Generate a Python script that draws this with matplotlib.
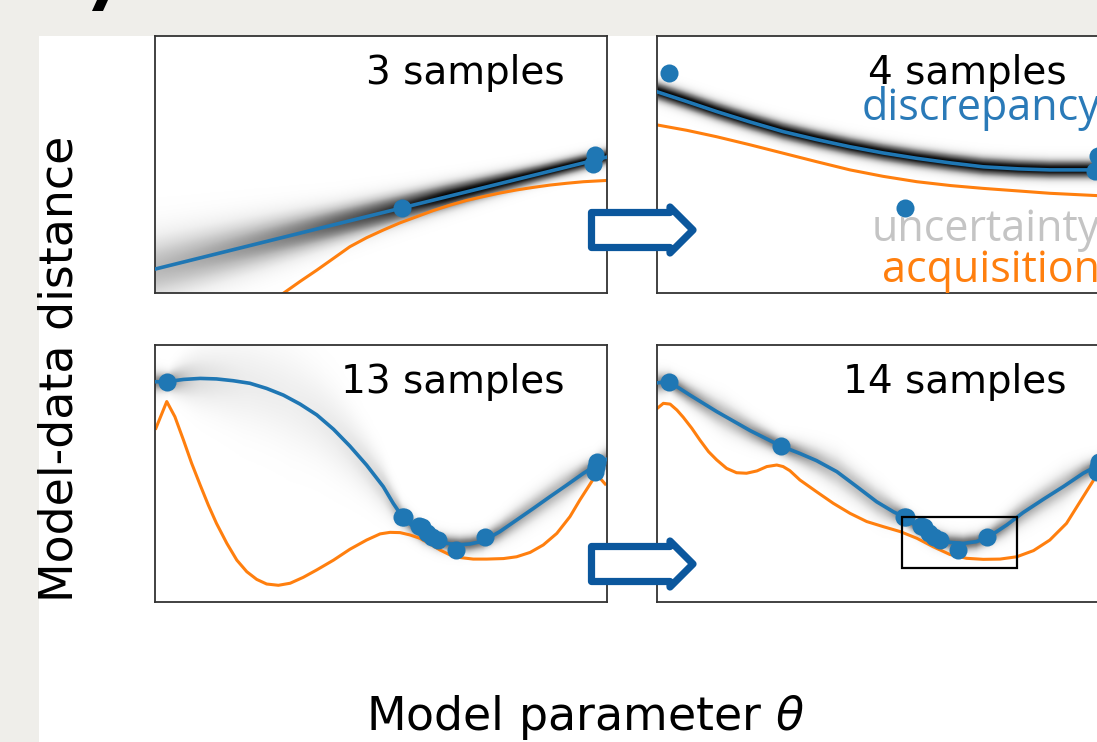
import matplotlib
matplotlib.use('Agg')
import numpy as np
import matplotlib.pyplot as plt
from matplotlib.patches import Polygon, Rectangle

W, H = 1097, 742
BLUE = '#1f77b4'
ORANGE = '#ff7f0e'
ARROW = '#0b579d'

# ---------------- data (theta and distance, both scaled 0..1) ----------------
# 3 samples
tl_theta = [0.0, 0.25, 0.5, 0.75, 1.0]
tl_mean = [0.093, 0.202, 0.311, 0.420, 0.529]
tl_sd_theta = [0.0, 0.2, 0.4, 0.55, 0.7, 0.85, 1.0]
tl_sd = [0.09, 0.07, 0.05, 0.04, 0.032, 0.025, 0.022]
tl_acq_theta = [0.1, 0.2, 0.25, 0.284, 0.321, 0.358, 0.395, 0.431, 0.468, 0.505, 0.542,
                0.579, 0.616, 0.653, 0.689, 0.726, 0.763, 0.8, 0.837, 0.874, 0.911, 0.948, 1.0]
tl_acq = [-0.22, -0.1, -0.045, -0.001, 0.045, 0.089, 0.135, 0.18, 0.215, 0.245, 0.273,
          0.297, 0.321, 0.342, 0.36, 0.375, 0.389, 0.401, 0.411, 0.42, 0.427, 0.433, 0.438]
tl_pts_theta = [0.546, 0.973, 0.969]
tl_pts = [0.331, 0.537, 0.502]

# 4 samples
tr_theta = [0.0, 0.066, 0.132, 0.205, 0.279, 0.353, 0.427, 0.5, 0.575, 0.65, 0.722,
            0.8, 0.869, 0.973, 1.0]
tr_mean = [0.783, 0.745, 0.706, 0.666, 0.628, 0.597, 0.569, 0.545, 0.524, 0.506, 0.491,
           0.483, 0.479, 0.479, 0.48]
tr_sd_theta = [0.0, 0.5, 1.0]
tr_sd = [0.026, 0.026, 0.026]
tr_acq_theta = [0.0, 0.066, 0.132, 0.205, 0.279, 0.353, 0.427, 0.5, 0.575, 0.65, 0.722,
                0.8, 0.869, 0.973, 1.0]
tr_acq = [0.654, 0.633, 0.608, 0.577, 0.544, 0.511, 0.479, 0.454, 0.433, 0.418, 0.407,
          0.397, 0.388, 0.379, 0.377]
tr_pts_theta = [0.027, 0.549, 0.975, 0.97]
tr_pts = [0.856, 0.331, 0.535, 0.475]

# 13 samples
bl_theta = [0.002, 0.026, 0.063, 0.1, 0.136, 0.173, 0.21, 0.247, 0.284, 0.321, 0.358,
            0.395, 0.431, 0.468, 0.505, 0.527, 0.547, 0.571, 0.594, 0.623, 0.653, 0.675,
            0.697, 0.726, 0.763, 0.8, 0.837, 0.874, 0.911, 0.948, 0.977, 1.0]
bl_mean = [0.857, 0.857, 0.866, 0.87, 0.868, 0.861, 0.851, 0.831, 0.805, 0.77, 0.728,
           0.672, 0.607, 0.533, 0.449, 0.384, 0.332, 0.293, 0.261, 0.237, 0.226, 0.223,
           0.226, 0.237, 0.274, 0.319, 0.364, 0.41, 0.455, 0.501, 0.533, 0.556]
bl_sd_theta = [0.0, 0.03, 0.1, 0.2, 0.3, 0.4, 0.5, 0.55, 0.6, 0.67, 0.73, 0.8, 0.9, 0.97, 1.0]
bl_sd = [0.03, 0.025, 0.07, 0.11, 0.12, 0.1, 0.06, 0.03, 0.025, 0.025, 0.025, 0.035, 0.04, 0.025, 0.03]
bl_acq_theta = [0.002, 0.026, 0.044, 0.063, 0.081, 0.1, 0.118, 0.136, 0.159, 0.181, 0.203,
                0.225, 0.247, 0.273, 0.299, 0.328, 0.358, 0.395, 0.431, 0.468, 0.498, 0.52,
                0.542, 0.564, 0.586, 0.608, 0.631, 0.653, 0.675, 0.704, 0.734, 0.771, 0.8,
                0.83, 0.859, 0.889, 0.918, 0.94, 0.959, 0.973, 0.985, 0.996]
bl_acq = [0.676, 0.78, 0.721, 0.63, 0.54, 0.455, 0.377, 0.306, 0.228, 0.163, 0.118,
          0.088, 0.07, 0.065, 0.073, 0.096, 0.125, 0.163, 0.205, 0.241, 0.265, 0.271,
          0.27, 0.261, 0.248, 0.226, 0.202, 0.183, 0.173, 0.167, 0.167, 0.169, 0.176,
          0.193, 0.222, 0.267, 0.332, 0.397, 0.449, 0.488, 0.481, 0.459]
bl_pts_theta = [0.026, 0.547, 0.55, 0.585, 0.59, 0.601, 0.612, 0.625, 0.667, 0.73, 0.977, 0.973, 0.975]
bl_pts = [0.857, 0.332, 0.33, 0.296, 0.29, 0.267, 0.254, 0.241, 0.202, 0.254, 0.546, 0.507, 0.525]

# 14 samples
br_theta = [0.001, 0.027, 0.073, 0.132, 0.206, 0.274, 0.316, 0.353, 0.398, 0.442, 0.486,
            0.523, 0.549, 0.575, 0.611, 0.648, 0.678, 0.707, 0.737, 0.774, 0.81, 0.855,
            0.899, 0.943, 0.973, 1.0]
br_mean = [0.853, 0.857, 0.805, 0.741, 0.667, 0.607, 0.578, 0.55, 0.507, 0.449, 0.39,
           0.351, 0.329, 0.293, 0.252, 0.232, 0.228, 0.235, 0.257, 0.3, 0.348, 0.4,
           0.449, 0.501, 0.529, 0.556]
br_sd_theta = [0.0, 0.03, 0.15, 0.27, 0.4, 0.5, 0.55, 0.6, 0.67, 0.73, 0.8, 0.9, 0.97, 1.0]
br_sd = [0.03, 0.025, 0.04, 0.025, 0.045, 0.04, 0.025, 0.025, 0.025, 0.025, 0.035, 0.04, 0.025, 0.03]
br_acq_theta = [0.001, 0.014, 0.029, 0.044, 0.058, 0.077, 0.095, 0.114, 0.132, 0.154, 0.176,
                0.198, 0.221, 0.243, 0.265, 0.279, 0.294, 0.316, 0.353, 0.39, 0.427, 0.464,
                0.501, 0.538, 0.575, 0.611, 0.648, 0.685, 0.722, 0.759, 0.796, 0.833, 0.869,
                0.906, 0.943, 0.973, 1.0]
br_acq = [0.754, 0.773, 0.77, 0.747, 0.719, 0.676, 0.63, 0.585, 0.553, 0.52, 0.503,
          0.501, 0.51, 0.527, 0.533, 0.527, 0.511, 0.475, 0.429, 0.384, 0.345, 0.313,
          0.293, 0.274, 0.248, 0.215, 0.185, 0.17, 0.166, 0.167, 0.176, 0.2, 0.241,
          0.306, 0.41, 0.494, 0.56]
br_pts_theta = bl_pts_theta + [0.274]
br_pts = bl_pts + [0.607]
br_box = (0.542, 0.132, 0.254, 0.199)  # theta0, dist0, width, height

panels = [
    ('3 samples', (155, 36), 0.035, tl_theta, tl_mean, tl_sd_theta, tl_sd, tl_acq_theta, tl_acq, tl_pts_theta, tl_pts),
    ('4 samples', (657, 36), 0.035, tr_theta, tr_mean, tr_sd_theta, tr_sd, tr_acq_theta, tr_acq, tr_pts_theta, tr_pts),
    ('13 samples', (155, 345), 0.016, bl_theta, bl_mean, bl_sd_theta, bl_sd, bl_acq_theta, bl_acq, bl_pts_theta, bl_pts),
    ('14 samples', (657, 345), 0.016, br_theta, br_mean, br_sd_theta, br_sd, br_acq_theta, br_acq, br_pts_theta, br_pts),
]

# ---------------------------------------------------------------------------
fig = plt.figure(figsize=(W / 100, H / 100), dpi=100, facecolor='#efeeea')

bg = fig.add_axes([0, 0, 1, 1], zorder=-5)
bg.set_xlim(0, W)
bg.set_ylim(H, 0)
bg.axis('off')
bg.add_patch(Rectangle((39, 36), W, H, facecolor='white', edgecolor='none'))
bg.add_patch(Polygon([(97, 0), (108, 0), (103, 11), (92, 11)], closed=True,
                     facecolor='black', edgecolor='none'))

pw, ph = 452, 257
axes = []
for title, (px, py), s0, th, mu, sth, sd, ath, acq, ptx, pty in panels:
    ax = fig.add_axes([px / W, 1 - (py + ph) / H, pw / W, ph / H])
    gx = np.linspace(0, 1, 500)
    gy = np.linspace(-0.1, 1.1, 700)
    m = np.interp(gx, th, mu)
    s = np.interp(gx, sth, sd)
    z = (gy[:, None] - m[None, :]) / s[None, :]
    dens = np.exp(-0.5 * z ** 2) * np.minimum(1, s0 / s)[None, :]
    ax.imshow(dens, extent=[0, 1, -0.1, 1.1], origin='lower', cmap='Greys',
              vmin=0, vmax=1, aspect='auto', interpolation='bilinear', zorder=0)
    ax.plot(ath, acq, color=ORANGE, lw=2.2, zorder=2)
    ax.plot(th, mu, color=BLUE, lw=2.6, zorder=3)
    ax.plot(ptx, pty, 'o', color=BLUE, ms=13, mec='none', zorder=4)
    ax.text(0.907, 0.813, title, transform=ax.transAxes, ha='right', va='baseline',
            fontsize=28, color='black')
    ax.set_xlim(0, 1)
    ax.set_ylim(0, 1)
    ax.set_xticks([])
    ax.set_yticks([])
    for sp in ax.spines.values():
        sp.set_color('#333333')
        sp.set_linewidth(1.3)
    axes.append(ax)

axes[3].add_patch(Rectangle(br_box[:2], br_box[2], br_box[3], fill=False,
                            edgecolor='black', lw=1.6, zorder=5))

ov = fig.add_axes([0, 0, 1, 1], zorder=10)
ov.set_xlim(0, W)
ov.set_ylim(H, 0)
ov.axis('off')
ov.patch.set_alpha(0)


def arrow(y0):
    pts = [(591.5, y0 - 17.5), (670, y0 - 17.5), (670, y0 - 23), (693, y0),
           (670, y0 + 23), (670, y0 + 17.5), (591.5, y0 + 17.5)]
    ov.add_patch(Polygon(pts, closed=True, facecolor='white', edgecolor=ARROW,
                         lw=5.2, joinstyle='round'))


arrow(230)
arrow(564)

lab = dict(family=['Open Sans', 'DejaVu Sans'], fontsize=31, va='baseline', ha='left')
ov.text(862, 120, 'discrepancy', color='#2a7ab8', **lab)
ov.text(872, 241, 'uncertainty', color='#c4c4c4', **lab)
ov.text(882, 282, 'acquisition', color=ORANGE, **lab)

ov.text(73, 369, 'Model-data distance', rotation=90, rotation_mode='anchor',
        ha='center', va='baseline', fontsize=33)
ov.text(585, 730, r'Model parameter $\theta$', ha='center', va='baseline', fontsize=33)

fig.savefig('out.png', dpi=100, facecolor=fig.get_facecolor())
